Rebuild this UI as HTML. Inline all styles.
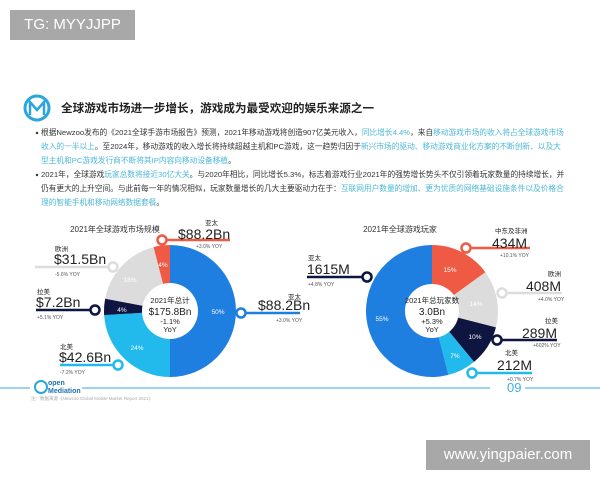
<!DOCTYPE html><html><head><meta charset="utf-8"><style>
body{margin:0;width:600px;height:480px;background:#fff;overflow:hidden;position:relative;font-family:"Liberation Sans","Noto Sans CJK SC",sans-serif}
.t{position:absolute;white-space:nowrap}
.p{position:absolute;left:41px;font-size:7.7px;color:#333;line-height:13.8px;width:526px}
.c{color:#4cb8d8}
</style></head><body>
<svg width="600" height="480" style="position:absolute;left:0;top:0" font-family="Liberation Sans, Noto Sans CJK SC, sans-serif">
<circle cx="37" cy="108" r="12" fill="none" stroke="#2aa6dc" stroke-width="3"/>
<path d="M30 115 L30 102 L37 110 L44 102 L44 115" fill="none" stroke="#2aa6dc" stroke-width="2.5"/>
<text x="61" y="112" font-size="11.6" fill="#222" font-weight="bold">全球游戏市场进一步增长，游戏成为最受欢迎的娱乐来源之一</text>
<circle cx="37" cy="133" r="1.2" fill="#333"/><circle cx="37" cy="175" r="1.2" fill="#333"/>
<g id="d1"></g><g id="d2"></g>
<circle cx="170" cy="311" r="28" fill="#fff"/><circle cx="432" cy="311" r="27" fill="#fff"/>
<g font-size="7.5" fill="#222" text-anchor="middle">
<text x="170" y="303">2021年总计</text><text x="170" y="315" font-size="10">$175.8Bn</text><text x="170" y="324">-1.1%</text><text x="170" y="332">YoY</text>
<text x="432" y="303">2021年总玩家数</text><text x="432" y="315" font-size="10">3.0Bn</text><text x="432" y="324">+5.3%</text><text x="432" y="332">YoY</text>
<text x="115" y="232" font-size="8" fill="#333">2021年全球游戏市场规模</text>
<text x="400" y="232" font-size="8" fill="#333">2021年全球游戏玩家</text>
</g>
<g fill="#fff" font-size="6.5" text-anchor="middle">
<text x="218" y="314">50%</text><text x="137" y="350">24%</text><text x="122" y="312">4%</text><text x="130" y="282">18%</text><text x="163" y="267">4%</text>
<text x="450" y="272">15%</text><text x="476" y="306">14%</text><text x="475" y="339">10%</text><text x="455" y="358">7%</text><text x="382" y="321">55%</text>
</g>
<g stroke-width="2.5" fill="#fff">
<line x1="162" y1="240" x2="230" y2="240" stroke="#ef5a45"/><circle cx="162" cy="240" r="4.5" stroke="#ef5a45"/>
<line x1="35" y1="267" x2="113" y2="267" stroke="#ddd"/><circle cx="113" cy="267" r="4.5" stroke="#ddd"/>
<line x1="36" y1="310" x2="95" y2="310" stroke="#0d1540"/><circle cx="95" cy="310" r="4.5" stroke="#0d1540"/>
<line x1="60" y1="365" x2="118" y2="365" stroke="#22b9ec"/><circle cx="118" cy="365" r="4.5" stroke="#22b9ec"/>
<line x1="241" y1="313" x2="300" y2="313" stroke="#1e7fe0"/><circle cx="241" cy="313" r="4.5" stroke="#1e7fe0"/>
<line x1="466" y1="248" x2="530" y2="248" stroke="#ef5a45"/><circle cx="466" cy="248" r="4.5" stroke="#ef5a45"/>
<line x1="307" y1="277" x2="367" y2="277" stroke="#0d1540"/><circle cx="367" cy="277" r="4.5" stroke="#0d1540"/>
<line x1="502" y1="293" x2="562" y2="293" stroke="#ddd"/><circle cx="502" cy="293" r="4.5" stroke="#ddd"/>
<line x1="497" y1="340" x2="557" y2="340" stroke="#0d1540"/><circle cx="497" cy="340" r="4.5" stroke="#0d1540"/>
<line x1="472" y1="373" x2="532" y2="373" stroke="#22b9ec"/><circle cx="472" cy="373" r="4.5" stroke="#22b9ec"/>
</g>
<g fill="#222">
<g font-size="6.5"><text x="205" y="225">亚太</text><text x="55" y="251">欧洲</text><text x="37" y="294">拉美</text><text x="60" y="349">北美</text><text x="288" y="299">亚太</text>
<text x="495" y="233">中东及非洲</text><text x="308" y="260">亚太</text><text x="548" y="276">欧洲</text><text x="545" y="323">拉美</text><text x="505" y="355">北美</text></g>
<g font-size="14"><text x="178" y="239">$88.2Bn</text><text x="54" y="264">$31.5Bn</text><text x="36" y="307">$7.2Bn</text><text x="59" y="362">$42.6Bn</text><text x="258" y="310">$88.2Bn</text>
<text x="527" y="248" text-anchor="end">434M</text><text x="307" y="274">1615M</text><text x="561" y="291" text-anchor="end">408M</text><text x="557" y="338" text-anchor="end">289M</text><text x="532" y="370" text-anchor="end">212M</text></g>
<g font-size="5" fill="#555"><text x="196" y="248">+3.0% YOY</text><text x="55" y="276">-5.6% YOY</text><text x="37" y="319">+5.1% YOY</text><text x="60" y="374">-7.2% YOY</text><text x="276" y="322">+3.0% YOY</text>
<text x="500" y="257">+10.1% YOY</text><text x="308" y="286">+4.8% YOY</text><text x="538" y="301">+4.0% YOY</text><text x="533" y="347">+602% YOY</text><text x="507" y="381">+0.7% YOY</text></g>
</g>
<line x1="0" y1="388" x2="30" y2="388" stroke="#3aa7de" stroke-width="1"/>
<line x1="82" y1="388" x2="490" y2="388" stroke="#3aa7de" stroke-width="1"/>
<line x1="525" y1="388" x2="600" y2="388" stroke="#3aa7de" stroke-width="1"/>
<circle cx="41" cy="387" r="6" fill="none" stroke="#2aa6dc" stroke-width="2"/>
<text x="48" y="385" font-size="7" fill="#1e6fb0" font-weight="bold">open</text>
<text x="48" y="393" font-size="7" fill="#1e6fb0" font-weight="bold">Mediation</text>
<text x="507" y="392" font-size="13" fill="#3ab0e0">09</text>
<text x="31" y="400" font-size="4.5" fill="#aaa">注：数据来源《Newzoo Global Mobile Market Report 2021》</text>
</svg>
<div class="p" style="top:126px">根据Newzoo发布的《2021全球手游市场报告》预测，2021年移动游戏将创造907亿美元收入，<span class="c">同比增长4.4%</span>，来自<span class="c">移动游戏市场的收入将占全球游戏市场收入的一半以上</span>。至2024年，移动游戏的收入增长将持续超越主机和PC游戏，这一趋势归因于<span class="c">新兴市场的驱动、移动游戏商业化方案的不断创新、以及大型主机和PC游戏发行商不断将其IP内容向移动设备移植</span>。</div>
<div class="p" style="top:168px">2021年，全球游戏<span class="c">玩家总数将接近30亿大关</span>。与2020年相比，同比增长5.3%，标志着游戏行业2021年的强势增长势头不仅引领着玩家数量的持续增长，并仍有更大的上升空间。与此前每一年的情况相似，玩家数量增长的几大主要驱动力在于：<span class="c">互联网用户数量的增加、更为优质的网络基础设施条件以及价格合理的智能手机和移动网络数据套餐</span>。</div>
<div class="t" style="left:10px;top:10px;width:125px;height:30px;background:#a8a8a8;color:#fff;font-size:15px;line-height:30px;text-align:center">TG: MYYJJPP</div>
<div class="t" style="left:426px;top:440px;width:164px;height:30px;background:#a8a8a8;color:#fff;font-size:15px;line-height:30px;text-align:center">www.yingpaier.com</div>
<script>
function donut(id,cx,cy,r,segs){var a=0,s='';segs.forEach(function(g){var a0=a*2*Math.PI,a1=(a+g[0])*2*Math.PI;a+=g[0];
var x0=cx+r*Math.sin(a0),y0=cy-r*Math.cos(a0),x1=cx+r*Math.sin(a1),y1=cy-r*Math.cos(a1);
s+='<path d="M'+cx+' '+cy+' L'+x0+' '+y0+' A'+r+' '+r+' 0 '+(g[0]>0.5?1:0)+' 1 '+x1+' '+y1+' Z" fill="'+g[1]+'"/>';});
document.getElementById(id).innerHTML=s;}
donut('d1',170,311,66,[[0.5,'#1e7fe0'],[0.24,'#22b9ec'],[0.04,'#0d1540'],[0.18,'#dcdcdc'],[0.04,'#ef5a45']]);
donut('d2',432,311,66,[[0.15,'#ef5a45'],[0.14,'#dcdcdc'],[0.10,'#0d1540'],[0.07,'#22b9ec'],[0.54,'#1e7fe0']]);
</script>
</body></html>
